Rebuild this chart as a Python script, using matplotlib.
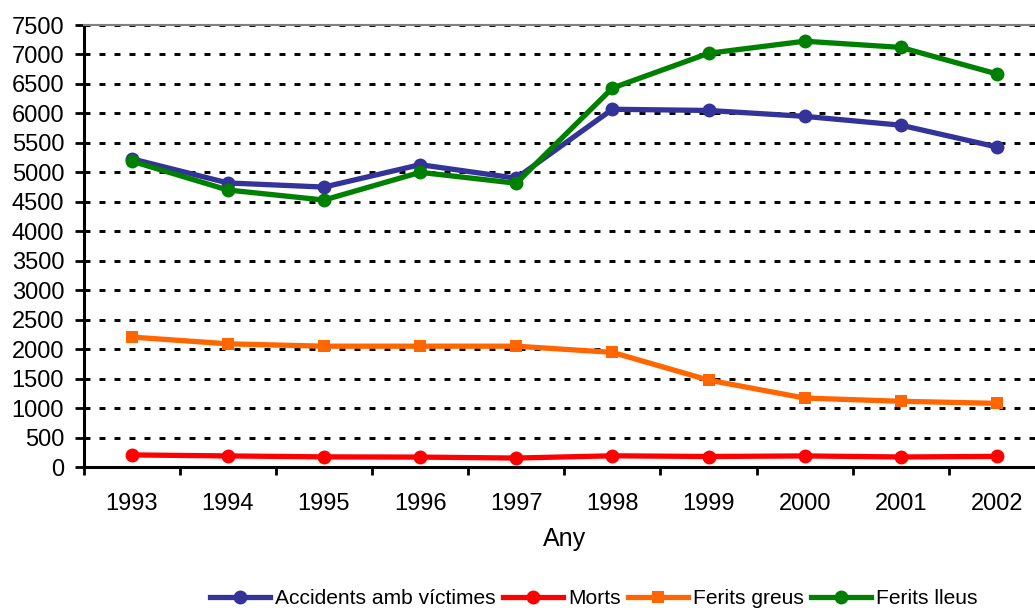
import matplotlib
matplotlib.use("Agg")
import matplotlib.pyplot as plt
import numpy as np

plt.rcParams['font.family'] = ['Liberation Sans', 'DejaVu Sans']
plt.rcParams['lines.scale_dashes'] = False

years = ['1993', '1994', '1995', '1996', '1997', '1998', '1999', '2000', '2001', '2002']
accidents = [5230, 4820, 4750, 5130, 4900, 6070, 6050, 5950, 5800, 5430]
morts = [205, 188, 172, 168, 152, 190, 178, 188, 170, 180]
ferits_greus = [2205, 2090, 2050, 2050, 2050, 1945, 1475, 1170, 1115, 1080]
ferits_lleus = [5190, 4700, 4530, 5000, 4815, 6430, 7020, 7225, 7120, 6670]

series = [
    ('Accidents amb víctimes', accidents, '#333399', 'o'),
    ('Morts', morts, '#FF0000', 'o'),
    ('Ferits greus', ferits_greus, '#FF6600', 's'),
    ('Ferits lleus', ferits_lleus, '#008000', 'o'),
]

W, H = 1035, 610
fig = plt.figure(figsize=(W / 100, H / 100), dpi=100)
ax = fig.add_axes([83.6 / W, 1 - 467 / H, (1045 - 83.6) / W, (467 - 25) / H])

x = np.arange(len(years))
for label, vals, color, marker in series:
    ax.plot(x, vals, color=color, lw=3.8, marker=marker,
            markersize=9.0 if marker == 's' else 10.0,
            markeredgewidth=0, label=label, zorder=3, solid_joinstyle='round')

ax.set_xlim(-0.5, len(years) - 0.5)
ax.set_ylim(0, 7500)
ax.set_yticks(np.arange(0, 7501, 500))

# dotted horizontal grid
for yv in np.arange(500, 7501, 500):
    ax.axhline(yv, color='black', lw=2.1, linestyle=(0, (4.3, 6.5)), zorder=2)

# category ticks sit between the labels
ax.set_xticks(np.arange(-0.5, len(years), 1.0))
ax.set_xticklabels([])
ax.set_xticks(x, minor=True)
ax.set_xticklabels(years, minor=True)
ax.tick_params(axis='x', which='minor', length=0, pad=18.5, labelsize=17)
ax.tick_params(axis='x', which='major', length=6, width=2, direction='out', color='black')
ax.tick_params(axis='y', length=6.5, width=2, direction='out', pad=7.5, labelsize=17)

for side in ['left', 'bottom']:
    ax.spines[side].set_linewidth(2.2)
    ax.spines[side].set_color('black')
ax.spines['top'].set_color('#808080')
ax.spines['top'].set_linewidth(1.5)
ax.spines['right'].set_visible(False)

ax.set_xlabel('Any', fontsize=18, labelpad=9)

fig.legend(loc='center', bbox_to_anchor=(594 / W, 1 - 599 / H), ncol=4, frameon=False,
           fontsize=15.1, handlelength=2.85, handletextpad=0.25, columnspacing=0.35,
           borderaxespad=0, borderpad=0)

fig.savefig('out.png', dpi=100)
